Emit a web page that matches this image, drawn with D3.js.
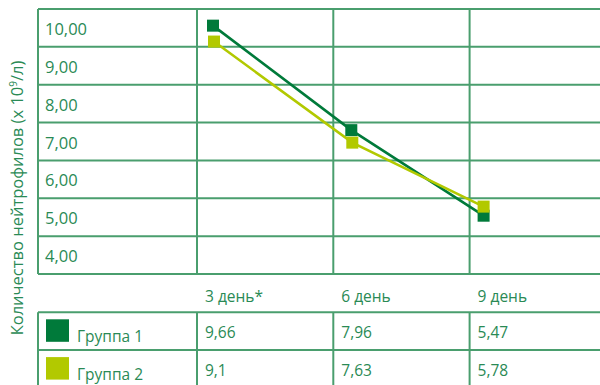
<!DOCTYPE html>
<html>
<head>
<meta charset="utf-8">
<script src="https://cdn.jsdelivr.net/npm/d3@7"></script>
<style>
  body { margin: 0; background: #fff; }
  text { font-family: "Open Sans", "Noto Sans", sans-serif; fill: #2a8a55; }
</style>
</head>
<body>
<svg id="chart" width="600" height="385"></svg>
<script>
// data
const days = ['3 день*', '6 день', '9 день']
const groups = ['Группа 1', 'Группа 2']
const groupColors = ['#007a3a', '#b2c900']
// positions of markers as drawn in the picture
const group1Plot = [10.06, 7.30, 5.04]
const group2Plot = [9.64, 6.97, 5.28]
// values printed in the table
const group1Table = ['9,66', '7,96', '5,47']
const group2Table = ['9,1', '7,63', '5,78']
const yTicks = [10, 9, 8, 7, 6, 5, 4]

const svg = d3.select('#chart')
const gridColor = '#4a9e6e'

// layout
const leftX = 38, labelCol = 197, topY = 9, bottomY = 274
const colW = 136.3
const rowH = 37.8

const yScale = d3.scaleLinear().domain([3.5, 10.5]).range([bottomY, topY])
const xBand = d3.scaleBand().domain(days).range([labelCol, labelCol + colW * 3])
// marker position inside each day column
const markX = (i, k) => xBand(days[i]) + [16, 18, 14][i] + (k === 1 && i < 2 ? 1 : 0)

// horizontal grid lines (row borders)
const rowEdges = d3.range(3.5, 10.51, 1)
svg.append('g').selectAll('line').data(rowEdges).enter().append('line')
  .attr('x1', leftX).attr('x2', 600)
  .attr('y1', (d) => yScale(d)).attr('y2', (d) => yScale(d))
  .attr('stroke', gridColor).attr('stroke-width', 2)

// vertical lines of the plot area
const vx = [leftX, labelCol].concat(days.slice(1).map((d) => xBand(d)))
svg.append('g').selectAll('line').data(vx).enter().append('line')
  .attr('x1', (d) => d).attr('x2', (d) => d)
  .attr('y1', topY).attr('y2', bottomY)
  .attr('stroke', gridColor).attr('stroke-width', 2)

// y labels inside the rows
svg.append('g').selectAll('text').data(yTicks).enter().append('text')
  .attr('x', 45).attr('y', (d) => yScale(d) + 7)
  .attr('font-size', 16.5)
  .text((d) => d3.format('.2f')(d).replace('.', ','))

// axis title
const title = svg.append('text')
  .attr('transform', 'translate(23,198) rotate(-90)')
  .attr('text-anchor', 'middle')
  .attr('font-size', 16.5)
title.append('tspan').text('Количество нейтрофилов (x 10')
title.append('tspan').attr('font-size', 10).attr('dy', -6).text('9')
title.append('tspan').attr('dy', 6).text('/л)')

// series lines and markers
const plotSeries = [group1Plot, group2Plot]
plotSeries.forEach((s, k) => {
  svg.append('path').datum(s)
    .attr('d', d3.line()
      .x((d, i) => markX(i, k))
      .y((d) => yScale(d)))
    .attr('fill', 'none').attr('stroke', groupColors[k]).attr('stroke-width', 2.6)
})
plotSeries.forEach((s, k) => {
  svg.append('g').selectAll('rect').data(s).enter().append('rect')
    .attr('x', (d, i) => markX(i, k) - 6)
    .attr('y', (d) => yScale(d) - 6)
    .attr('width', 12).attr('height', 12)
    .attr('fill', groupColors[k])
})

// table
const tTop = 312.3
// header
svg.append('g').selectAll('text').data(days).enter().append('text')
  .attr('x', (d) => xBand(d) + 8).attr('y', 301.5)
  .attr('font-size', 15.5)
  .text((d) => d)

// table lines
const tRows = [tTop, tTop + rowH, tTop + rowH * 2]
svg.append('g').selectAll('line').data(tRows).enter().append('line')
  .attr('x1', leftX).attr('x2', 600)
  .attr('y1', (d) => d).attr('y2', (d) => d)
  .attr('stroke', gridColor).attr('stroke-width', 2)
svg.append('g').selectAll('line').data(vx).enter().append('line')
  .attr('x1', (d) => d).attr('x2', (d) => d)
  .attr('y1', tTop).attr('y2', 385)
  .attr('stroke', gridColor).attr('stroke-width', 2)

const tableVals = [group1Table, group2Table]
groups.forEach((g, k) => {
  const y0 = tTop + rowH * k
  svg.append('rect')
    .attr('x', 46).attr('y', y0 + 7).attr('width', 23).attr('height', 22.5)
    .attr('fill', groupColors[k])
  svg.append('text')
    .attr('x', 77).attr('y', y0 + 30)
    .attr('font-size', 15.5)
    .text(g)
  svg.append('g').selectAll('text').data(tableVals[k]).enter().append('text')
    .attr('x', (d, i) => xBand(days[i]) + 8).attr('y', y0 + 26)
    .attr('font-size', 15.5)
    .text((d) => d)
})
</script>
</body>
</html>
